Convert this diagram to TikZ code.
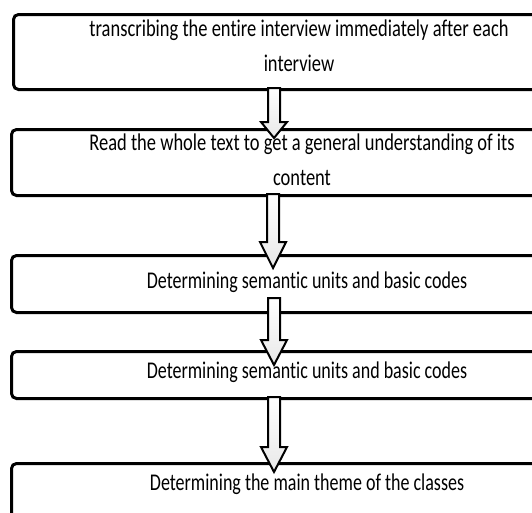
\documentclass[tikz,border=0pt]{standalone}
\usepackage{fontspec}
\setmainfont{Carlito}[FakeStretch=0.75,Ligatures=NoCommon]
\newfontfamily\widecarlito{Carlito}[FakeStretch=0.77,Ligatures=NoCommon]
\usetikzlibrary{calc}
\tikzset{
  x=1pt, y=-1pt,
  stagebox/.style={draw=black, line width=3pt, rounded corners=5pt, fill=white,
    anchor=north west, inner sep=0pt},
  stagetext/.style={font=\fontsize{24}{35}\selectfont, align=center, inner sep=0pt, anchor=base},
  widetext/.style={stagetext, font=\widecarlito\fontsize{24}{35}\selectfont},
  barrow/.style={draw=black, line width=2pt, line join=miter,
    top color=white, bottom color=gray!18},
}
\newcommand{\blockarrow}[3]{%
  \path[barrow] ($(#1)+(-6,0)$) -- ($(#1)+(6,0)$) -- ($(#2)+(6,-#3)$) -- ($(#2)+(13,-#3)$)
    -- (#2) -- ($(#2)+(-13,-#3)$) -- ($(#2)+(-6,-#3)$) -- cycle;}
\begin{document}
\begin{tikzpicture}
\clip (0,0) rectangle (532,512);
\fill[white] (0,0) rectangle (532,512);
% boxes
\node[stagebox, minimum width=586pt, minimum height=75pt] (b1) at (12,13) {};
\node[stagebox, minimum width=588pt, minimum height=66pt] (b2) at (10,128) {};
\node[stagebox, minimum width=588pt, minimum height=57pt] (b3) at (10,254) {};
\node[stagebox, minimum width=588pt, minimum height=47pt] (b4) at (10,350) {};
\node[stagebox, minimum width=588pt, minimum height=70pt] (b5) at (10,462) {};
% arrows
\coordinate (a1s) at (274,88);  \coordinate (a1e) at (274,138);
\coordinate (a2s) at (273,194); \coordinate (a2e) at (273,268);
\coordinate (a3s) at (274,298); \coordinate (a3e) at (274,365);
\coordinate (a4s) at (274,397); \coordinate (a4e) at (274,472);
\blockarrow{a1s}{a1e}{16}
\blockarrow{a2s}{a2e}{26}
\blockarrow{a3s}{a3e}{25}
\blockarrow{a4s}{a4e}{25}
% texts
\node[widetext] (t1) at (299,71) {transcribing the entire interview immediately after each\\interview};
\node[widetext] (t2) at (302,185) {Read the whole text to get a general understanding of its\\content};
\node[stagetext] (t3) at (307,288) {Determining semantic units and basic codes};
\node[stagetext] (t4) at (307,378) {Determining semantic units and basic codes};
\node[stagetext] (t5) at (307,490) {Determining the main theme of the classes};
\end{tikzpicture}
\end{document}
